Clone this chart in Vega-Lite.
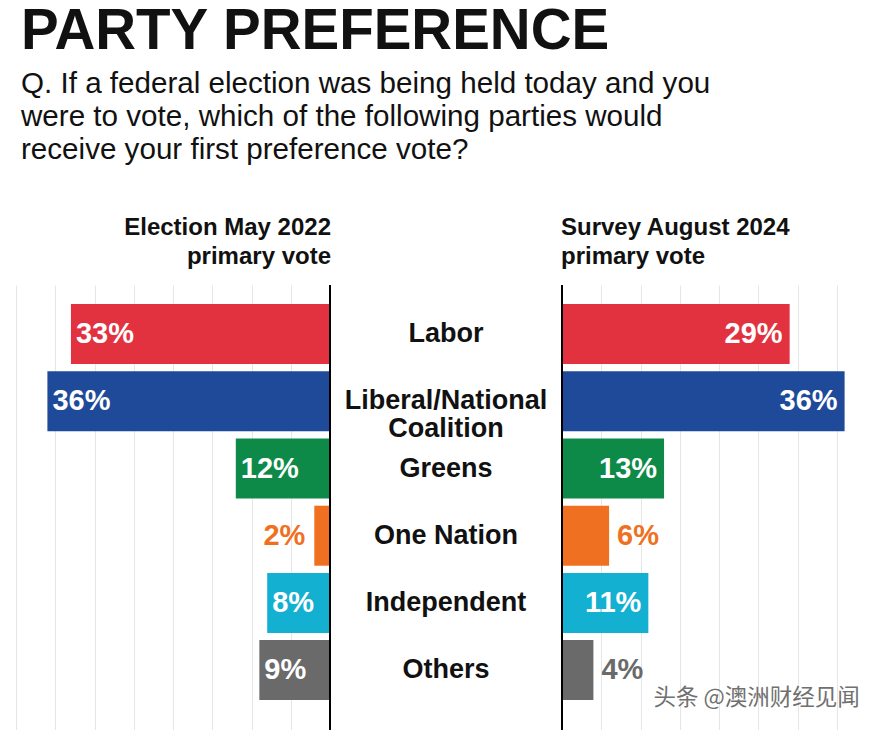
{
  "$schema": "https://vega.github.io/schema/vega-lite/v6.json",
  "background": "white",
  "padding": {"left": 16, "top": 3, "right": 0, "bottom": 0},
  "title": {
    "text": "PARTY PREFERENCE",
    "subtitle": ["Q. If a federal election was being held today and you", "were to vote, which of the following parties would", "receive your first preference vote?"],
    "anchor": "start",
    "dx": 5,
    "font": "Liberation Sans",
    "fontSize": 56.5,
    "fontWeight": "bold",
    "color": "#111111",
    "subtitleFont": "Liberation Sans",
    "subtitleFontSize": 29.6,
    "subtitleColor": "#111111",
    "subtitleLineHeight": 33,
    "subtitlePadding": 10,
    "offset": 51
  },
  "datasets": {
    "parties": [
      {"party": "Labor", "label": "Labor", "e2022": 33, "s2024": 29},
      {"party": "Liberal/National Coalition", "label": "Liberal/National\nCoalition", "e2022": 36, "s2024": 36},
      {"party": "Greens", "label": "Greens", "e2022": 12, "s2024": 13},
      {"party": "One Nation", "label": "One Nation", "e2022": 2, "s2024": 6},
      {"party": "Independent", "label": "Independent", "e2022": 8, "s2024": 11},
      {"party": "Others", "label": "Others", "e2022": 9, "s2024": 4}
    ]
  },
  "spacing": 0,
  "hconcat": [
    {
      "width": 314,
      "height": 445,
      "title": {"text": ["Election May 2022", "primary vote"], "anchor": "end", "fontSize": 24, "fontWeight": "bold", "lineHeight": 29, "offset": 15, "color": "#111111"},
      "data": {"name": "parties"},
      "layer": [
        {
          "mark": {"type": "bar"},
          "encoding": {
            "x": {"field": "e2022", "type": "quantitative", "scale": {"domain": [0, 40], "reverse": true, "nice": false}, "axis": {"values": [0, 5, 10, 15, 20, 25, 30, 35, 40], "grid": true}},
            "y": {"field": "party", "type": "nominal", "scale": {"type": "band", "domain": ["Labor", "Liberal/National Coalition", "Greens", "One Nation", "Independent", "Others"], "paddingInner": 0.107, "paddingOuter": 0.3645, "align": 0.39}, "axis": null},
            "color": {"field": "party", "type": "nominal", "scale": {"domain": ["Labor", "Liberal/National Coalition", "Greens", "One Nation", "Independent", "Others"], "range": ["#e3323f", "#1f4a9a", "#0e8a48", "#f07022", "#14b0d2", "#6a6a6a"]}, "legend": null}
          }
        },
        {
          "transform": [{"filter": "datum.e2022 >= 5"}],
          "mark": {"type": "text", "align": "left", "baseline": "middle", "dx": 5, "color": "white", "fontSize": 29, "fontWeight": "bold", "text": {"expr": "datum.e2022 + '%'"}},
          "encoding": {
            "x": {"field": "e2022", "type": "quantitative", "axis": {"values": [0, 5, 10, 15, 20, 25, 30, 35, 40], "grid": true}},
            "y": {"field": "party", "type": "nominal"}
          }
        },
        {
          "transform": [{"filter": "datum.e2022 < 5"}],
          "mark": {"type": "text", "align": "right", "baseline": "middle", "dx": -9, "fontSize": 29, "fontWeight": "bold", "text": {"expr": "datum.e2022 + '%'"}},
          "encoding": {
            "x": {"field": "e2022", "type": "quantitative", "axis": {"values": [0, 5, 10, 15, 20, 25, 30, 35, 40], "grid": true}},
            "y": {"field": "party", "type": "nominal"},
            "color": {"field": "party", "type": "nominal"}
          }
        },
        {
          "mark": {"type": "rule", "color": "#000000", "strokeWidth": 2},
          "encoding": {"x": {"datum": 0, "axis": {"values": [0, 5, 10, 15, 20, 25, 30, 35, 40], "grid": true}}}
        }
      ]
    },
    {
      "width": 230,
      "height": 445,
      "title": {"text": [" ", " "], "fontSize": 24, "lineHeight": 29, "offset": 15},
      "data": {"name": "parties"},
      "mark": {"type": "text", "lineBreak": "\n", "baseline": "middle", "align": "center", "fontSize": 27, "fontWeight": "bold", "lineHeight": 28, "color": "#111111"},
      "encoding": {
        "y": {"field": "party", "type": "nominal", "scale": {"type": "band", "domain": ["Labor", "Liberal/National Coalition", "Greens", "One Nation", "Independent", "Others"], "paddingInner": 0.107, "paddingOuter": 0.3645, "align": 0.39}, "axis": null},
        "text": {"field": "label", "type": "nominal"}
      }
    },
    {
      "width": 314,
      "height": 445,
      "title": {"text": ["Survey August 2024", "primary vote"], "anchor": "start", "fontSize": 24, "fontWeight": "bold", "lineHeight": 29, "offset": 15, "color": "#111111"},
      "data": {"name": "parties"},
      "layer": [
        {
          "mark": {"type": "bar"},
          "encoding": {
            "x": {"field": "s2024", "type": "quantitative", "scale": {"domain": [0, 40], "nice": false}, "axis": {"values": [0, 5, 10, 15, 20, 25, 30, 35, 40], "grid": true}},
            "y": {"field": "party", "type": "nominal", "scale": {"type": "band", "domain": ["Labor", "Liberal/National Coalition", "Greens", "One Nation", "Independent", "Others"], "paddingInner": 0.107, "paddingOuter": 0.3645, "align": 0.39}, "axis": null},
            "color": {"field": "party", "type": "nominal", "scale": {"domain": ["Labor", "Liberal/National Coalition", "Greens", "One Nation", "Independent", "Others"], "range": ["#e3323f", "#1f4a9a", "#0e8a48", "#f07022", "#14b0d2", "#6a6a6a"]}, "legend": null}
          }
        },
        {
          "transform": [{"filter": "datum.s2024 >= 10"}],
          "mark": {"type": "text", "align": "right", "baseline": "middle", "dx": -7, "color": "white", "fontSize": 29, "fontWeight": "bold", "text": {"expr": "datum.s2024 + '%'"}},
          "encoding": {
            "x": {"field": "s2024", "type": "quantitative", "axis": {"values": [0, 5, 10, 15, 20, 25, 30, 35, 40], "grid": true}},
            "y": {"field": "party", "type": "nominal"}
          }
        },
        {
          "transform": [{"filter": "datum.s2024 < 10"}],
          "mark": {"type": "text", "align": "left", "baseline": "middle", "dx": 8, "fontSize": 29, "fontWeight": "bold", "text": {"expr": "datum.s2024 + '%'"}},
          "encoding": {
            "x": {"field": "s2024", "type": "quantitative", "axis": {"values": [0, 5, 10, 15, 20, 25, 30, 35, 40], "grid": true}},
            "y": {"field": "party", "type": "nominal"},
            "color": {"field": "party", "type": "nominal"}
          }
        },
        {
          "mark": {"type": "rule", "color": "#000000", "strokeWidth": 2},
          "encoding": {"x": {"datum": 0, "axis": {"values": [0, 5, 10, 15, 20, 25, 30, 35, 40], "grid": true}}}
        },
        {
          "data": {"values": [{"t": "头条 @澳洲财经见闻"}]},
          "mark": {"type": "text", "font": "Noto Sans CJK SC", "fontSize": 22.5, "color": "#707070", "baseline": "middle", "align": "center", "dy": 28},
          "encoding": {
            "x": {"datum": 24.8, "axis": {"values": [0, 5, 10, 15, 20, 25, 30, 35, 40], "grid": true}},
            "y": {"datum": "Others"},
            "text": {"field": "t", "type": "nominal"}
          }
        }
      ]
    }
  ],
  "config": {
    "view": {"stroke": null},
    "font": "Liberation Sans",
    "title": {"font": "Liberation Sans"},
    "text": {"font": "Liberation Sans"},
    "axis": {"domain": false, "ticks": false, "labels": false, "title": null, "grid": true, "gridColor": "#e6e6e6", "gridWidth": 1}
  }
}
